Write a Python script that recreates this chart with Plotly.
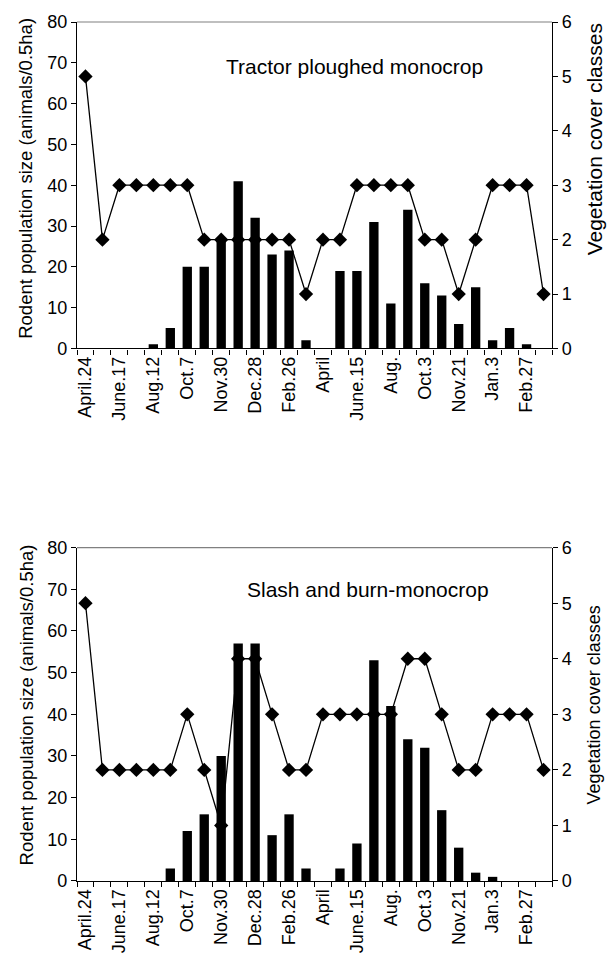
import plotly.graph_objects as go

# ---------------- data ----------------
dates = ["April.24", "", "June.17", "", "Aug.12", "", "Oct.7", "", "Nov.30", "",
         "Dec.28", "", "Feb.26", "", "April", "", "June.15", "", "Aug.", "",
         "Oct.3", "", "Nov.21", "", "Jan.3", "", "Feb.27", ""]

tractor_rodents = [0, 0, 0, 0, 1, 5, 20, 20, 27, 41, 32, 23, 24, 2,
                   0, 19, 19, 31, 11, 34, 16, 13, 6, 15, 2, 5, 1, 0]
tractor_veg = [5, 2, 3, 3, 3, 3, 3, 2, 2, 2, 2, 2, 2, 1,
               2, 2, 3, 3, 3, 3, 2, 2, 1, 2, 3, 3, 3, 1]

slash_rodents = [0, 0, 0, 0, 0, 3, 12, 16, 30, 57, 57, 11, 16, 3,
                 0, 3, 9, 53, 42, 34, 32, 17, 8, 2, 1, 0, 0, 0]
slash_veg = [5, 2, 2, 2, 2, 2, 3, 2, 1, 4, 4, 3, 2, 2,
             3, 3, 3, 3, 3, 4, 4, 3, 2, 2, 3, 3, 3, 2]

left_ticks = [0, 10, 20, 30, 40, 50, 60, 70, 80]
right_ticks = [0, 1, 2, 3, 4, 5, 6]

idx = list(range(len(dates)))
label_pos = [i for i, d in enumerate(dates) if d]
label_txt = [d for d in dates if d]
bounds = [i - 0.5 for i in range(len(dates) + 1)]

FONT = "Liberation Sans, Arial, sans-serif"
W, H = 607, 965
ML, MR, MT, MB = 77, 55, 18, 76
PH = H - MT - MB

def fy(px):
    return (H - MB - px) / PH

def fx(px):
    return (px - ML) / (W - ML - MR)

panels = [
    dict(rod=tractor_rodents, veg=tractor_veg, dom=[fy(349), fy(18)],
         title="Tractor ploughed monocrop", tx=354, ty=63,
         lt_y=177, lt_size=18.5, rt_y=137, rt_size=21),
    dict(rod=slash_rodents, veg=slash_veg, dom=[fy(889), fy(551)],
         title="Slash and burn-monocrop", tx=368, ty=593,
         lt_y=711, lt_size=18.5, rt_y=711, rt_size=18),
]

fig = go.Figure()
layout = dict(
    width=W, height=H,
    margin=dict(l=ML, r=MR, t=MT, b=MB),
    paper_bgcolor="white", plot_bgcolor="white",
    showlegend=False,
    font=dict(family=FONT, size=18, color="black"),
    bargap=0.45,
)
annotations = []
shapes = []

for p, pan in enumerate(panels):
    xm = "x" if p == 0 else "x2"
    xo = "x3" if p == 0 else "x4"
    base = 1 + 4 * p
    yl, yr, yli, yri = [f"y{base + k}" if base + k > 1 else "y" for k in range(4)]

    def key(a):
        return ("xaxis" + a[1:]) if a.startswith("x") else ("yaxis" + a[1:])

    fig.add_trace(go.Bar(x=idx, y=pan["rod"], xaxis=xm, yaxis=yl,
                         marker=dict(color="black", line=dict(width=0)),
                         width=0.55))
    fig.add_trace(go.Scatter(x=idx, y=pan["veg"], xaxis=xm, yaxis=yr,
                             mode="lines+markers",
                             line=dict(color="black", width=1.3),
                             marker=dict(symbol="diamond", size=11, color="black")))

    xr = [-0.5, len(dates) - 0.5]
    layout[key(xm)] = dict(
        domain=[0, 1], anchor=yl, range=xr, showgrid=False, zeroline=False,
        showline=True, linecolor="black", linewidth=1.2,
        tickmode="array", tickvals=label_pos, ticktext=label_txt,
        tickangle=-90, ticks="", ticklen=0,
        tickfont=dict(size=18),
        minor=dict(tickmode="array", tickvals=bounds, ticks="outside",
                   ticklen=5, tickcolor="black", tickwidth=1.2, showgrid=False),
    )
    layout[key(xo)] = dict(
        overlaying=xm, anchor=yl, side="bottom", range=xr, showgrid=False,
        zeroline=False, showline=False, tickmode="array", tickvals=bounds,
        ticks="inside", ticklen=5, tickcolor="black", tickwidth=1.2,
        showticklabels=False,
    )
    layout[key(yl)] = dict(
        domain=pan["dom"], anchor=xm, range=[0, 80], showgrid=False,
        zeroline=False, showline=True, linecolor="black", linewidth=1.2,
        tickmode="array", tickvals=left_ticks, ticks="outside", ticklen=5,
        tickcolor="black", tickwidth=1.2, tickfont=dict(size=18),
    )
    layout[key(yr)] = dict(
        overlaying=yl, anchor=xm, side="right", range=[0, 6], showgrid=False,
        zeroline=False, showline=True, linecolor="black", linewidth=1.2,
        tickmode="array", tickvals=right_ticks, ticks="outside", ticklen=5,
        tickcolor="black", tickwidth=1.2, tickfont=dict(size=18),
    )
    layout[key(yli)] = dict(
        overlaying=yl, anchor=xm, side="left", range=[0, 80], showgrid=False,
        zeroline=False, showline=False, tickmode="array", tickvals=left_ticks,
        ticks="inside", ticklen=5, tickcolor="black", tickwidth=1.2,
        showticklabels=False,
    )
    layout[key(yri)] = dict(
        overlaying=yl, anchor=xm, side="right", range=[0, 6], showgrid=False,
        zeroline=False, showline=False, tickmode="array", tickvals=right_ticks,
        ticks="inside", ticklen=5, tickcolor="black", tickwidth=1.2,
        showticklabels=False,
    )

    shapes.append(dict(type="line", xref=f"{xm} domain", yref=f"{yl} domain",
                       x0=0, x1=1, y0=1, y1=1,
                       line=dict(color="#808080", width=1.2)))

    annotations.append(dict(text=pan["title"], xref="paper", yref="paper",
                            x=fx(pan["tx"]), y=fy(pan["ty"]),
                            xanchor="center", yanchor="middle", showarrow=False,
                            font=dict(size=21, family=FONT, color="black")))
    annotations.append(dict(text="Rodent population size (animals/0.5ha)",
                            xref="paper", yref="paper",
                            x=fx(26), y=fy(pan["lt_y"]), textangle=-90,
                            xanchor="center", yanchor="middle", showarrow=False,
                            font=dict(size=pan["lt_size"], family=FONT, color="black")))
    annotations.append(dict(text="Vegetation cover classes",
                            xref="paper", yref="paper",
                            x=fx(594), y=fy(pan["rt_y"]), textangle=-90,
                            xanchor="center", yanchor="middle", showarrow=False,
                            font=dict(size=pan["rt_size"], family=FONT, color="black")))

layout["annotations"] = annotations
layout["shapes"] = shapes
fig.update_layout(**layout)
fig.write_html("out.html",
               config={"displayModeBar": False},
               post_script="document.body.style.margin='0';document.body.style.overflow='hidden';")
